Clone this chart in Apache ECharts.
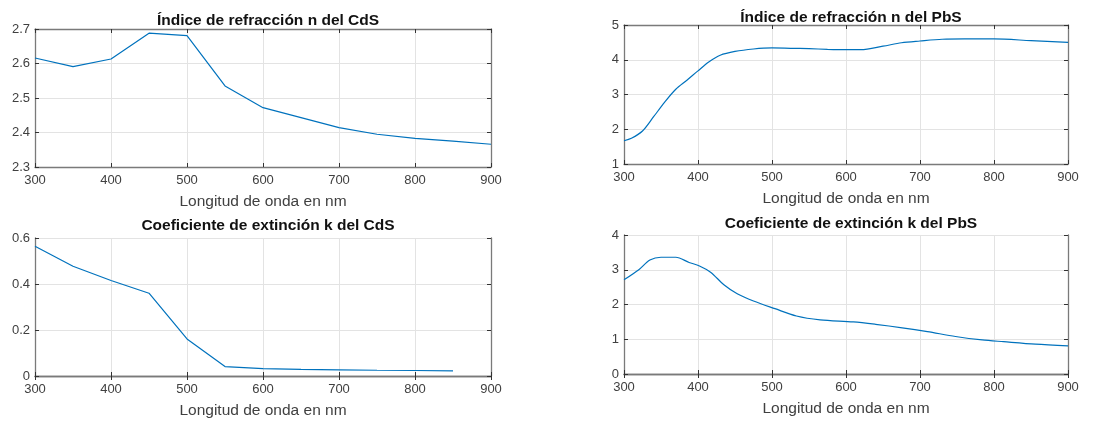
<!DOCTYPE html>
<html>
<head>
<meta charset="utf-8">
<script src="https://cdn.jsdelivr.net/npm/echarts@6/dist/echarts.min.js"></script>
<style>
  html, body { margin: 0; padding: 0; background: #fff; }
  #chart { width: 1097px; height: 425px; }
</style>
</head>
<body>
<div id="chart"></div>
<script>
// CdS (step 50 nm)
const cdsWl = [300, 350, 400, 450, 500, 550, 600, 650, 700, 750, 800, 850, 900];
const cdsN = [2.616, 2.591, 2.613, 2.688, 2.681, 2.535, 2.472, 2.443, 2.414, 2.395, 2.383, 2.375, 2.366];
const cdsKWl = [300, 350, 400, 450, 500, 550, 600, 650, 700, 750, 800, 850];
const cdsK = [0.564, 0.477, 0.415, 0.36, 0.161, 0.041, 0.032, 0.029, 0.027, 0.025, 0.024, 0.022];

// PbS
const pbsNWl = [300, 310, 325, 340, 355, 370, 385, 400, 415, 430, 450, 475, 500, 525, 550, 575, 600, 620, 650, 675, 700, 730, 760, 800, 850, 900];
const pbsN = [1.67, 1.74, 1.95, 2.36, 2.78, 3.15, 3.41, 3.68, 3.94, 4.13, 4.24, 4.31, 4.34, 4.33, 4.32, 4.30, 4.29, 4.29, 4.39, 4.49, 4.54, 4.59, 4.60, 4.60, 4.55, 4.50];
const pbsKWl = [300, 320, 335, 350, 370, 388, 402, 417, 435, 453, 475, 504, 533, 565, 610, 640, 676, 710, 748, 784, 813, 856, 900];
const pbsK = [2.71, 3.0, 3.28, 3.36, 3.36, 3.21, 3.11, 2.93, 2.57, 2.31, 2.10, 1.88, 1.67, 1.56, 1.50, 1.43, 1.33, 1.22, 1.08, 0.98, 0.93, 0.86, 0.81];

const titles = [
  'Índice de refracción n del CdS',
  'Índice de refracción n del PbS',
  'Coeficiente de extinción k del CdS',
  'Coeficiente de extinción k del PbS'
];
const xName = 'Longitud de onda en nm';
const yRanges = [
  { min: 2.3, max: 2.7, interval: 0.1 },
  { min: 1, max: 5, interval: 1 },
  { min: 0, max: 0.6, interval: 0.2 },
  { min: 0, max: 4, interval: 1 }
];

const grids = [
  { left: 35, top: 29, width: 456, height: 138 },
  { left: 624, top: 25, width: 444, height: 139 },
  { left: 35, top: 238, width: 456, height: 138 },
  { left: 624, top: 235, width: 444, height: 139 }
];
// title centre points
const titlePos = [
  { x: 263, y: 8 },
  { x: 846, y: 5 },
  { x: 263, y: 213 },
  { x: 846, y: 211 }
];

const lineColor = '#0072BD';
const boxColor = '#7a7a7a';
const txtColor = '#404040';
const font = 'Liberation Sans, Arial, sans-serif';

const xAxes = [];
const yAxes = [];
grids.forEach((g, i) => {
  // main axes
  xAxes.push({
    type: 'value', gridIndex: i, min: 300, max: 900, interval: 100,
    name: xName, nameLocation: 'middle', nameGap: 27,
    nameTextStyle: { color: txtColor, fontSize: 15.5, fontFamily: font },
    axisLine: { lineStyle: { color: boxColor, width: 1.3 } },
    axisTick: { inside: true, length: 4, lineStyle: { color: '#333' } },
    axisLabel: { color: txtColor, fontSize: 13, fontFamily: font, margin: 7 },
    splitLine: { show: true, lineStyle: { color: '#e3e3e3' } }
  });
  xAxes.push({
    type: 'value', gridIndex: i, min: 300, max: 900, interval: 100, position: 'top',
    axisLine: { lineStyle: { color: boxColor, width: 1.3 } },
    axisTick: { inside: true, length: 4, lineStyle: { color: '#333' } },
    axisLabel: { show: false }, splitLine: { show: false }
  });
  yAxes.push({
    type: 'value', gridIndex: i, min: yRanges[i].min, max: yRanges[i].max, interval: yRanges[i].interval,
    axisLine: { show: true, lineStyle: { color: boxColor, width: 1.3 } },
    axisTick: { show: true, inside: true, length: 4, lineStyle: { color: '#333' } },
    axisLabel: { color: txtColor, fontSize: 13, fontFamily: font, margin: 5 },
    splitLine: { show: true, lineStyle: { color: '#e3e3e3' } }
  });
  yAxes.push({
    type: 'value', gridIndex: i, min: yRanges[i].min, max: yRanges[i].max, interval: yRanges[i].interval, position: 'right',
    axisLine: { show: true, lineStyle: { color: boxColor, width: 1.3 } },
    axisTick: { show: true, inside: true, length: 4, lineStyle: { color: '#333' } },
    axisLabel: { show: false }, splitLine: { show: false }
  });
});

function pairs(xs, ys) {
  return xs.map((x, i) => [x, ys[i]]);
}
const seriesData = [
  { d: pairs(cdsWl, cdsN), smooth: false },
  { d: pairs(pbsNWl, pbsN), smooth: 0.3 },
  { d: pairs(cdsKWl, cdsK), smooth: false },
  { d: pairs(pbsKWl, pbsK), smooth: 0.3 }
];

const chart = echarts.init(document.getElementById('chart'));
chart.setOption({
  animation: false,
  backgroundColor: '#fff',
  title: titles.map((t, i) => ({
    text: t, left: titlePos[i].x, top: titlePos[i].y, textAlign: 'center',
    textStyle: { fontSize: 15.5, fontWeight: 'bold', color: '#111', fontFamily: font }
  })),
  grid: grids,
  xAxis: xAxes,
  yAxis: yAxes,
  series: seriesData.map((s, i) => ({
    type: 'line', xAxisIndex: i * 2, yAxisIndex: i * 2,
    data: s.d, smooth: s.smooth, showSymbol: false,
    lineStyle: { color: lineColor, width: 1.2 }
  }))
});
</script>
</body>
</html>
